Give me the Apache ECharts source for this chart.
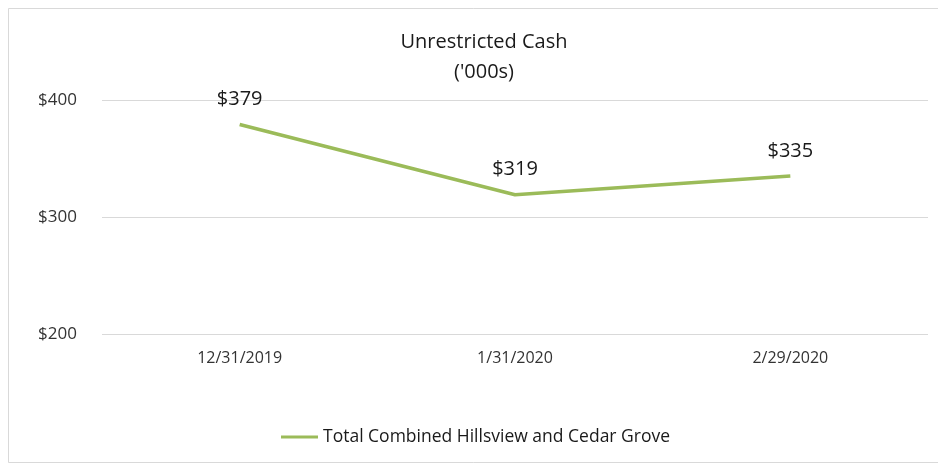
<!DOCTYPE html>
<html>
<head>
<meta charset="utf-8">
<script src="https://cdn.jsdelivr.net/npm/echarts@6/dist/echarts.min.js"></script>
<style>
  html, body { margin: 0; padding: 0; background: #fff; }
  #chart { width: 938px; height: 465px; }
</style>
</head>
<body>
<div id="chart"></div>
<script>
// data
var categories = ['12/31/2019', '1/31/2020', '2/29/2020'];
var cashValues = [379, 319, 335];
var seriesName = 'Total Combined Hillsview and Cedar Grove';
var yTicks = [200, 300, 400];

var myChart = echarts.init(document.getElementById('chart'));
var font = '"Open Sans", "Noto Sans", sans-serif';

var option = {
    backgroundColor: '#fff',
    textStyle: { fontFamily: font },
    graphic: [{
        type: 'rect',
        shape: { x: 8.5, y: 8.5, width: 935, height: 454 },
        style: { fill: 'none', stroke: '#d9d9d9', lineWidth: 1 },
        silent: true
    }],
    title: {
        text: "Unrestricted Cash\n('000s)",
        left: 479,
        top: 22,
        textAlign: 'center',
        textStyle: {
            fontFamily: font,
            fontSize: 20,
            fontWeight: 'normal',
            color: '#1a1a1a',
            lineHeight: 30
        }
    },
    grid: { left: 102, right: 10, top: 100, bottom: 131 },
    xAxis: {
        type: 'category',
        data: categories,
        boundaryGap: true,
        axisLine: { show: false },
        axisTick: { show: false },
        axisLabel: { color: '#333', fontSize: 16, margin: 16, fontFamily: font }
    },
    yAxis: {
        type: 'value',
        min: yTicks[0],
        max: yTicks[yTicks.length - 1],
        interval: 100,
        axisLine: { show: false },
        axisTick: { show: false },
        splitLine: { lineStyle: { color: '#d9d9d9', width: 1 } },
        axisLabel: {
            color: '#333',
            fontSize: 17,
            margin: 25,
            fontFamily: font,
            formatter: function (v) { return '$' + v; }
        }
    },
    legend: {
        left: 276,
        top: 423,
        icon: 'rect',
        itemWidth: 37,
        itemHeight: 3,
        itemGap: 3,
        textStyle: { color: '#1a1a1a', fontSize: 17.5, fontFamily: font },
        data: [seriesName]
    },
    series: [{
        name: seriesName,
        type: 'line',
        data: cashValues,
        showSymbol: true,
        symbol: 'circle',
        symbolSize: 0.1,
        lineStyle: { color: '#9bbb59', width: 3.5 },
        itemStyle: { color: '#9bbb59' },
        label: {
            show: true,
            position: 'top',
            distance: 15,
            fontSize: 20,
            color: '#1a1a1a',
            fontFamily: font,
            formatter: function (p) { return '$' + p.value; }
        }
    }]
};
myChart.setOption(option);
</script>
</body>
</html>
